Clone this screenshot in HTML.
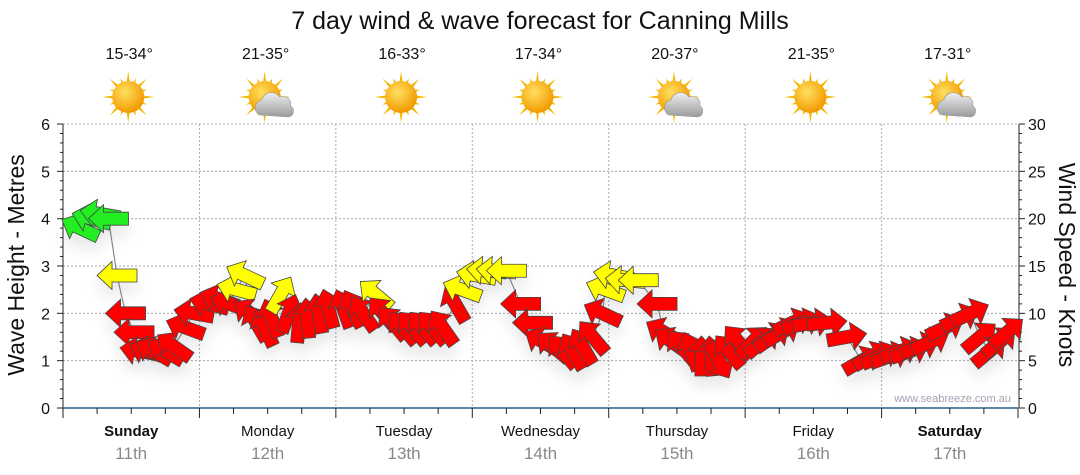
<!DOCTYPE html>
<html><head><meta charset="utf-8"><style>
body{margin:0;background:#fff;}
svg{display:block;font-family:"Liberation Sans",sans-serif;}
</style></head><body>
<svg id="c" width="1080" height="475" xmlns="http://www.w3.org/2000/svg">
<defs>
<filter id="sh" x="-10%" y="-20%" width="120%" height="160%"><feDropShadow dx="0" dy="10" stdDeviation="7" flood-color="#000" flood-opacity="0.09"/></filter>
<radialGradient id="sun" cx="40%" cy="35%" r="65%"><stop offset="0" stop-color="#ffe060"/><stop offset="1" stop-color="#f29a00"/></radialGradient>
<linearGradient id="cloud" x1="0" y1="0" x2="0" y2="1"><stop offset="0" stop-color="#f0f0f0"/><stop offset="1" stop-color="#9a9a9a"/></linearGradient>
</defs>
<text x="540" y="29" font-size="25" text-anchor="middle" fill="#111">7 day wind &amp; wave forecast for Canning Mills</text>
<g id="grid"></g><g id="axes"></g><g id="icons"></g><g id="line"></g><g id="arrows" filter="url(#sh)"></g>
<text x="24" y="265" font-size="23" text-anchor="middle" transform="rotate(-90 24 265)" fill="#111">Wave Height - Metres</text>
<text x="1059" y="265" font-size="23" text-anchor="middle" transform="rotate(90 1059 265)" fill="#111">Wind Speed - Knots</text>
<text x="1011" y="402" font-size="11" text-anchor="end" fill="#a0a4b0">www.seabreeze.com.au</text>
</svg>
<script>
const days=["Sunday","Monday","Tuesday","Wednesday","Thursday","Friday","Saturday"];
const dates=["11th","12th","13th","14th","15th","16th","17th"];
const temps=["15-34°","21-35°","16-33°","17-34°","20-37°","21-35°","17-31°"];
const cloudy=[0,1,0,0,1,0,1];
const leftTicks=[0,1,2,3,4,5,6];
const rightTicks=[0,5,10,15,20,25,30];
const hours=[3,5,6.5,8,9.5,11,12.5,13.5,15,16,18,19.5,21.5,23,
25.7,27.5,29.3,30.5,32,33,34,35.5,36.7,38.3,39.7,41.5,43,45,46.7,
49.3,51,52.8,55,56.3,58,59.8,61.5,63.3,65,66.8,69,70.2,
72.7,74.5,76.2,78,80.5,82.6,84.4,86.2,87.9,89.7,91.4,93.2,94.9,
95.4,96.8,98.9,101.2,104.5,105.7,107.1,108.8,110.5,112.3,114,115.4,117.1,118.8,
121.3,123,124.8,126.5,128.3,130,131.8,134.4,137.9,140.5,142.3,
143.8,145.6,147.3,149,150.8,152.6,155.2,157.8,159.6,161.3,163,164.8,166.1];
const speeds=[19,20,20.5,20,14,10,8,6,6,6,6,6.5,8.5,10,
11,11.5,11,12.5,14,10,9,8.5,9.5,12,10,9,9.5,10,10.5,
10.5,10.5,10,12,10,9,8.5,8.5,8.5,8.5,8.5,11,12.5,
14,14.5,14.5,14.5,11,9,7,6.5,6,6,6.5,7.5,10,
12.5,14,13.5,13.5,11,8,7,6.5,6,5.5,5.5,5,6,7,
7,7,7.5,8,9,9,9,9,7.5,5,5.5,
5.5,5.5,6,6,6.5,7,8.5,9.5,10,7.5,6,7,8];
const dirs=[155,165,170,180,180,180,180,170,160,150,150,145,160,170,
165,160,160,165,155,145,120,115,110,60,70,85,95,100,105,
110,115,125,140,130,130,130,130,130,130,125,120,160,
170,175,175,180,180,180,150,140,130,120,120,130,155,
160,170,175,180,180,150,145,130,110,90,95,-60,130,130,
45,40,35,30,25,20,10,5,10,30,30,
25,20,20,20,20,25,25,25,25,40,40,40,40];
const X0=63,X1=1018,Y0=408,YT=124;
const xh=h=>X0+(X1-X0)*h/168;
const yk=k=>Y0-(Y0-YT)*k/30;
const ym=m=>Y0-(Y0-YT)*m/6;
const NS="http://www.w3.org/2000/svg";
function mk(t,a,p,txt){const e=document.createElementNS(NS,t);for(const k in a)e.setAttribute(k,a[k]);if(txt!==undefined)e.textContent=txt;p.appendChild(e);return e;}
const G=document.getElementById('grid'),A=document.getElementById('axes'),I=document.getElementById('icons'),L=document.getElementById('line'),R=document.getElementById('arrows');
leftTicks.forEach(m=>{if(m>0){const g=mk('line',{x1:X0,x2:X1,y1:ym(m),y2:ym(m),stroke:'#aaa','stroke-dasharray':'2,2'},G);}
 const t=mk('text',{x:50,y:ym(m)+6,'font-size':16,'text-anchor':'end',fill:'#111'},A,String(m));});
for(let i=1;i<7;i++){const g=mk('line',{x1:xh(i*24),x2:xh(i*24),y1:YT,y2:Y0,stroke:'#aaa','stroke-dasharray':'2,2'},G);}
mk('line',{x1:X0,x2:X0,y1:YT,y2:Y0+10,stroke:'#222'},A);
mk('line',{x1:X1+1,x2:X1+1,y1:YT,y2:Y0,stroke:'#222'},A);
for(let v=0;v<=6.001;v+=0.2){const maj=Math.abs(v-Math.round(v))<0.01;mk('line',{x1:X0-(maj?6:3),x2:X0,y1:ym(v),y2:ym(v),stroke:'#222'},A);}
for(let v=0;v<=30.01;v+=1){const maj=v%5===0;mk('line',{x1:X1+1,x2:X1+1+(maj?6:3),y1:yk(v),y2:yk(v),stroke:'#222'},A);}
rightTicks.forEach(k=>{const t=mk('text',{x:X1+10,y:yk(k)+6,'font-size':16,fill:'#111'},A,String(k));});
mk('line',{x1:X0,x2:X1,y1:Y0,y2:Y0,stroke:'#2a5f86','stroke-width':1.5},A);
for(let h=0;h<=168;h+=6){mk('line',{x1:xh(h),x2:xh(h),y1:Y0,y2:Y0+(h%24===0?10:6),stroke:'#222'},A);}
days.forEach((d,i)=>{const cx=xh(i*24+12);
 const t=mk('text',{x:cx,y:436,'font-size':15,'text-anchor':'middle',fill:'#111','font-weight':(i===0||i===6)?'bold':'normal'},A,d);
 const t2=mk('text',{x:cx,y:459,'font-size':17,'text-anchor':'middle',fill:'#888'},A,dates[i]);
 const tt=mk('text',{x:cx-2,y:59,'font-size':16,'text-anchor':'middle',fill:'#111'},I,temps[i]);
 const g=mk('g',{transform:`translate(${cx-3},97)`},I);
 for(let k=0;k<16;k++){const a=k*Math.PI/8,r=(k%2?20:26);mk('polygon',{points:`${Math.cos(a-0.12)*14},${Math.sin(a-0.12)*14} ${Math.cos(a)*r},${Math.sin(a)*r} ${Math.cos(a+0.12)*14},${Math.sin(a+0.12)*14}`,fill:'#f5b800'},g);}
 mk('circle',{r:16,fill:'url(#sun)'},g);
 if(cloudy[i]){const c=mk('g',{transform:'translate(10,8)'},g);mk('path',{d:'M-15,10 a8,8 0 0 1 2,-15 a10,10 0 0 1 18,-3 a8,8 0 0 1 11,9 a6,6 0 0 1 -2,11 z',fill:'url(#cloud)',stroke:'#999','stroke-width':0.6},c);}
});
let pts=hours.map((h,i)=>xh(h)+','+yk(speeds[i])).join(' ');
const pl=mk('polyline',{points:pts,fill:'none',stroke:'#8a8a8a','stroke-width':1.2},L);
hours.forEach((h,i)=>{const s=speeds[i];const col=s>=15?'#22ee22':(s>=12?'#ffff00':'#ff0000');
 const p=mk('polygon',{points:'-20,0 -5,-14 -5,-6.5 20,-6.5 20,6.5 -5,6.5 -5,14',fill:col,stroke:'#444','stroke-width':0.8,'stroke-linejoin':'miter',transform:`translate(${xh(h)},${yk(s)}) rotate(${180-dirs[i]})`},R);
 
 });
</script>
</body></html>
